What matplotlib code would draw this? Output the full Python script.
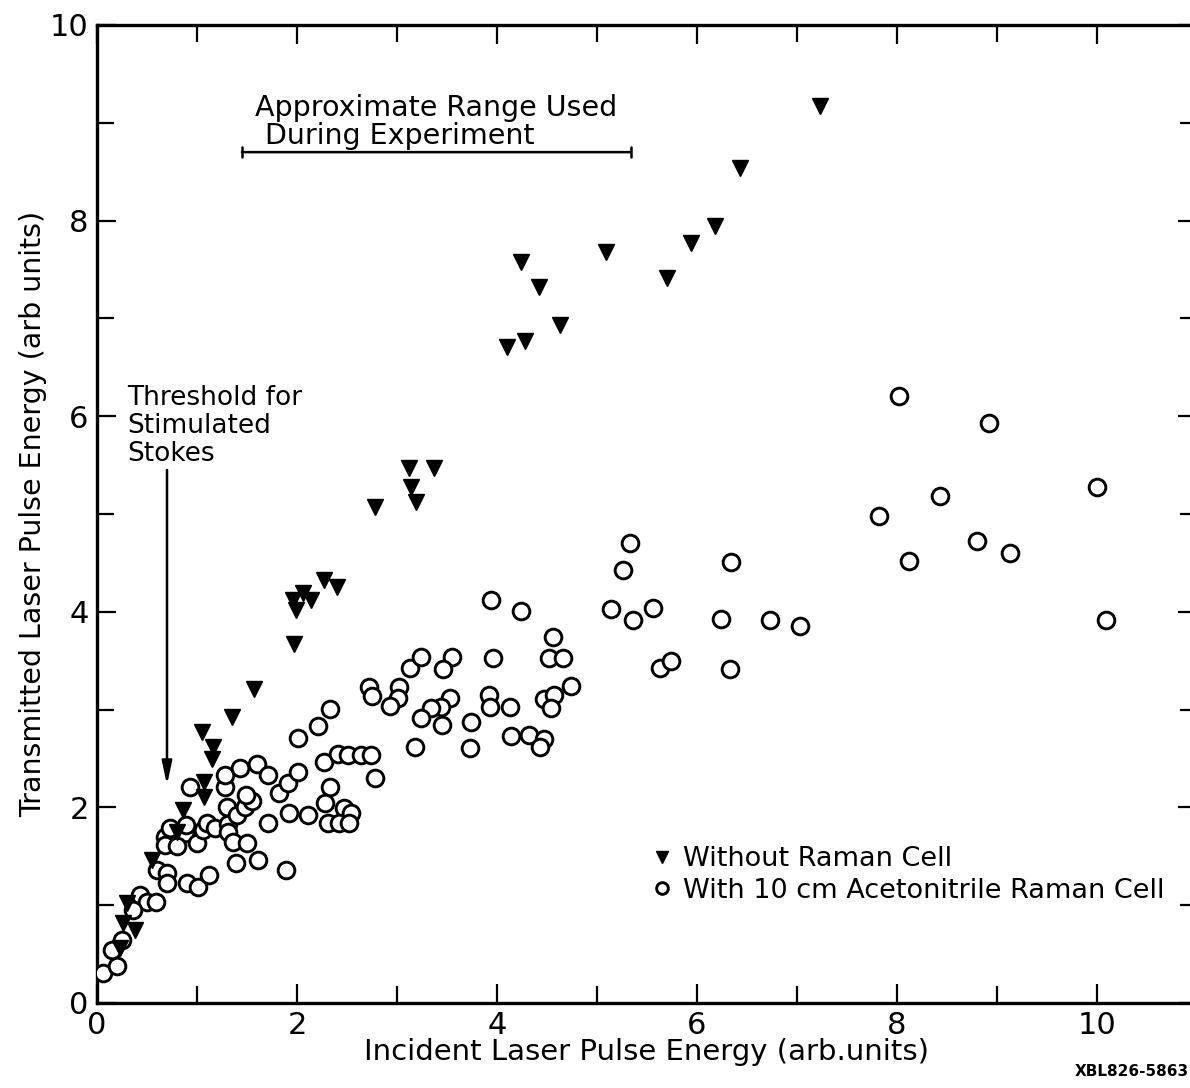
import matplotlib
matplotlib.use("Agg")
import matplotlib.pyplot as plt
import numpy as np

# data
no_cell_x = [7.23, 6.43, 6.18, 5.94, 5.09, 5.70, 4.24, 4.42, 4.63, 4.28, 4.10,
             3.37, 3.12, 3.14, 3.19, 2.78, 2.40, 2.27, 2.14, 2.06, 1.96, 1.99,
             1.97, 1.57, 1.35, 1.05, 1.16, 1.15, 1.07, 1.07, 0.86, 0.80, 0.55,
             0.30, 0.26, 0.38, 0.23]
no_cell_y = [9.17, 8.54, 7.94, 7.77, 7.68, 7.41, 7.58, 7.32, 6.93, 6.77, 6.71,
             5.47, 5.47, 5.28, 5.12, 5.07, 4.25, 4.33, 4.12, 4.19, 4.12, 4.02,
             3.67, 3.21, 2.92, 2.77, 2.62, 2.49, 2.26, 2.11, 1.97, 1.75, 1.46,
             1.02, 0.82, 0.75, 0.56]

cell_x = [0.06, 0.20, 0.15, 0.25, 0.43, 0.50, 0.59, 0.36, 0.60, 0.70, 0.70,
          0.90, 1.01, 1.12, 1.39, 1.61, 1.89, 0.68, 0.73, 0.88, 0.68, 0.80,
          1.00, 0.89, 0.93, 1.06, 1.10, 1.18, 1.31, 1.31, 1.30, 1.40, 1.48,
          1.55, 1.49, 1.28, 1.28, 1.43, 1.60, 1.71, 1.82, 1.91, 2.01, 1.36,
          1.50, 1.71, 1.92, 2.11, 2.01, 2.21, 2.33, 2.27, 2.41, 2.51, 2.64,
          2.74, 2.78, 2.33, 2.28, 2.47, 2.54, 2.31, 2.42, 2.52, 2.72, 2.75,
          3.02, 3.01, 2.93, 3.13, 3.24, 3.55, 3.46, 3.53, 3.44, 3.34, 3.24,
          3.45, 3.18, 3.74, 3.73, 3.92, 3.93, 3.96, 3.94, 4.24, 4.13, 4.14,
          4.32, 4.47, 4.43, 4.47, 4.57, 4.54, 4.52, 4.66, 4.56, 4.74, 5.14,
          5.26, 5.33, 5.36, 5.56, 5.63, 5.74, 6.34, 6.24, 6.33, 6.73, 7.03,
          8.02, 8.92, 8.43, 7.82, 8.80, 9.13, 8.12, 10.00, 10.09]
cell_y = [0.31, 0.38, 0.54, 0.64, 1.10, 1.03, 1.03, 0.95, 1.36, 1.33, 1.23,
          1.23, 1.19, 1.31, 1.43, 1.46, 1.36, 1.70, 1.79, 1.74, 1.62, 1.61,
          1.64, 1.82, 2.21, 1.77, 1.84, 1.79, 1.83, 1.75, 2.00, 1.92, 2.00,
          2.07, 2.13, 2.21, 2.33, 2.40, 2.44, 2.33, 2.15, 2.25, 2.36, 1.65,
          1.64, 1.84, 1.94, 1.92, 2.71, 2.83, 3.01, 2.46, 2.55, 2.54, 2.54,
          2.54, 2.30, 2.21, 2.04, 1.99, 1.94, 1.84, 1.84, 1.84, 3.23, 3.14,
          3.23, 3.12, 3.04, 3.43, 3.54, 3.54, 3.42, 3.12, 3.03, 3.02, 2.91,
          2.84, 2.62, 2.87, 2.61, 3.15, 3.03, 3.53, 4.12, 4.01, 3.03, 2.73,
          2.74, 2.70, 2.62, 3.11, 3.15, 3.02, 3.53, 3.53, 3.74, 3.24, 4.03,
          4.43, 4.70, 3.92, 4.04, 3.43, 3.50, 4.51, 3.93, 3.42, 3.92, 3.85,
          6.21, 5.93, 5.18, 4.98, 4.72, 4.60, 4.52, 5.28, 3.92]

x_ticks = [0, 2, 4, 6, 8, 10]
y_ticks = [0, 2, 4, 6, 8, 10]

range_lo, range_hi, range_y = 1.45, 5.34, 8.70
thresh_x, thresh_top, thresh_bot = 0.70, 5.45, 2.23

plt.rcParams['font.family'] = ['DejaVu Sans']

fig = plt.figure(figsize=(11.9, 10.88), dpi=100)
ax = fig.add_axes([97 / 1190, 85 / 1088, 1100 / 1190, 978 / 1088])

ax.plot(cell_x, cell_y, 'o', ms=12, mfc='white', mec='black', mew=2.1,
        ls='none', label='With 10 cm Acetonitrile Raman Cell', zorder=3)
ax.plot(no_cell_x, no_cell_y, 'v', ms=12, color='black', ls='none',
        label='Without Raman Cell', zorder=4)

ax.set_xlim(0, 11)
ax.set_ylim(0, 10)
ax.set_xticks(x_ticks)
ax.set_yticks(y_ticks)
ax.set_xticks(np.arange(1, 11, 2), minor=True)
ax.set_yticks(np.arange(1, 10, 2), minor=True)
ax.tick_params(which='both', direction='in', top=True, right=True,
               width=1.6, labelsize=22)
ax.tick_params(which='major', length=14, pad=6)
ax.tick_params(which='minor', length=12)
for s in ax.spines.values():
    s.set_linewidth(2.4)

ax.set_xlabel('Incident Laser Pulse Energy (arb.units)', fontsize=21, labelpad=-2)
ax.set_ylabel('Transmitted Laser Pulse Energy (arb units)', fontsize=20.5, labelpad=2)

# approximate range bracket
ax.annotate('', xy=(range_lo, range_y), xytext=(range_hi, range_y),
            arrowprops=dict(arrowstyle='|-|,widthA=0.35,widthB=0.35', lw=1.8,
                            color='black', shrinkA=0, shrinkB=0))
ax.text(1.58, 9.15, 'Approximate Range Used', fontsize=20.5, ha='left', va='center')
ax.text(1.68, 8.86, 'During Experiment', fontsize=20.5, ha='left', va='center')

# threshold arrow
ax.text(0.30, 5.9, 'Threshold for\nStimulated\nStokes', fontsize=19,
        ha='left', va='center', linespacing=1.1)
ax.annotate('', xy=(thresh_x, thresh_bot), xytext=(thresh_x, thresh_top),
            arrowprops=dict(arrowstyle='-|>,head_length=1.4,head_width=0.3',
                            lw=1.8, color='black', shrinkA=0, shrinkB=0))

handles, labels = ax.get_legend_handles_labels()
ax.legend(handles[::-1], labels[::-1], loc='upper left',
          bbox_to_anchor=(0.48, 0.185), frameon=False, fontsize=19.5,
          handletextpad=0.35, handlelength=0.9, labelspacing=0.2,
          markerscale=0.7)

fig.text(0.999, 0.008, 'XBL826-5863', fontsize=11, fontweight='bold',
         ha='right', va='bottom')

fig.savefig('out.png', dpi=100)
